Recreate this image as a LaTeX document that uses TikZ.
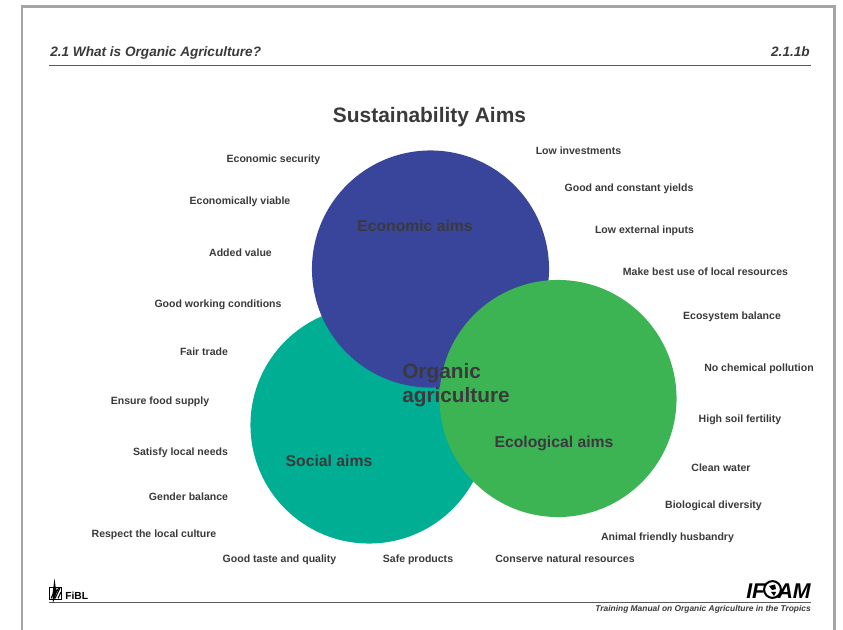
\documentclass[tikz,border=0pt]{standalone}
\usepackage{fontspec}
\setmainfont{Liberation Sans}
\definecolor{ink}{HTML}{3A3A3C}
\definecolor{rulec}{HTML}{58595B}
\definecolor{framegray}{HTML}{A3A5A7}
\definecolor{bluec}{HTML}{39459B}
\definecolor{tealc}{HTML}{00AE93}
\definecolor{greenc}{HTML}{3CB454}
\tikzset{
  px/.style={x=0.75pt,y=-0.75pt},
  lab/.style={font=\bfseries\fontsize{7.9}{9}\selectfont,text=ink,inner sep=0pt,anchor=base},
  aim/.style={font=\bfseries\fontsize{11.8}{14}\selectfont,text=ink,inner sep=0pt,anchor=base},
  head/.style={font=\bfseries\itshape\fontsize{10.2}{12}\selectfont,text=ink,inner sep=0pt,anchor=base},
  rulel/.style={draw=rulec,line width=0.8pt},
  circ/.style={circle,inner sep=0pt,minimum size=177.8pt}
}
\begin{document}
\begin{tikzpicture}[px]
\useasboundingbox (0,0) rectangle (843,630);
\fill[white] (0,0) rectangle (843,630);
\coordinate (fa) at (22,630); \coordinate (fb) at (22,6.5); \coordinate (fc) at (834.5,6.5); \coordinate (fd) at (834.5,630);
\draw[framegray,line width=2.2pt] (fa) -- (fb) -- (fc) -- (fd);
% header
\node[head,anchor=base west] (h1) at (50,56.5) {2.1 What is Organic Agriculture?};
\node[head,anchor=base east] (h2) at (810,56.5) {2.1.1b};
\coordinate (r1a) at (49,65.5); \coordinate (r1b) at (811,65.5);
\draw[rulel] (r1a) -- (r1b);
\node[font=\bfseries\fontsize{15.7}{18}\selectfont,text=ink,inner sep=0pt,anchor=base] (title) at (429.5,122.5) {Sustainability Aims};
% circles
\node[circ,fill=tealc] (soc) at (369,425) {};
\node[circ,fill=bluec] (eco) at (430.5,269) {};
\node[circ,fill=greenc] (ecl) at (558,398.5) {};
\node[aim] (t1) at (415,232) {Economic aims};
\node[aim] (t2) at (329,467) {Social aims};
\node[aim] (t3) at (554,447.5) {Ecological aims};
\node[font=\bfseries\fontsize{15.6}{18}\selectfont,text=ink,inner sep=0pt,align=left,anchor=north west] (t4) at (402,363) {Organic\\agriculture};
% labels left
\node[lab] (a1) at (273.5,163) {Economic security};
\node[lab] (a2) at (240,205) {Economically viable};
\node[lab] (a3) at (240.5,257) {Added value};
\node[lab] (a4) at (218,308) {Good working conditions};
\node[lab] (a5) at (204,356) {Fair trade};
\node[lab] (a6) at (160,405) {Ensure food supply};
\node[lab] (a7) at (180.5,456) {Satisfy local needs};
\node[lab] (a8) at (188.5,501) {Gender balance};
\node[lab] (a9) at (154,538) {Respect the local culture};
\node[lab] (a10) at (279.5,563) {Good taste and quality};
\node[lab] (a11) at (418,563) {Safe products};
\node[lab] (a12) at (565,563) {Conserve natural resources};
% labels right
\node[lab] (b1) at (578.5,155) {Low investments};
\node[lab] (b2) at (629,192) {Good and constant yields};
\node[lab] (b3) at (644.5,234) {Low external inputs};
\node[lab] (b4) at (705.5,276) {Make best use of local resources};
\node[lab] (b5) at (732,320) {Ecosystem balance};
\node[lab] (b6) at (759,372) {No chemical pollution};
\node[lab] (b7) at (740,423) {High soil fertility};
\node[lab] (b8) at (721,472) {Clean water};
\node[lab] (b9) at (713.5,509) {Biological diversity};
\node[lab] (b10) at (667.5,541) {Animal friendly husbandry};
% footer
\coordinate (r2a) at (49,602.5); \coordinate (r2b) at (811,602.5);
\draw[rulel] (r2a) -- (r2b);
\node[font=\bfseries\itshape\fontsize{6.3}{8}\selectfont,text=ink,inner sep=0pt,anchor=base east] (foot) at (811,612) {Training Manual on Organic Agriculture in the Tropics};
\node[font=\bfseries\fontsize{7.7}{9}\selectfont,text=black,inner sep=0pt,anchor=base west] (fibl) at (65,599.5) {FiBL};
% FiBL mark
\draw[black,line width=0.5pt] (49.5,587.5) rectangle (61,599.5);
\fill[black] (54.5,578.5) -- (56,590) -- (60,587) -- (56.5,593) -- (53,603) -- (52.5,594) -- cycle;
\draw[black,line width=0.8pt] (51,598.5) -- (56,588) (55,598.5) -- (60,588) (58,598.5) -- (61,592);
% IFOAM mark
\node[font=\bfseries\itshape\fontsize{16}{18}\selectfont,text=black,inner sep=0pt,anchor=base east] (ifoam1) at (811,598.5) {AM};
\node[font=\bfseries\itshape\fontsize{16}{18}\selectfont,text=black,inner sep=0pt,anchor=base west] (ifoam2) at (746,598.5) {IF};
\draw[black,line width=1.5pt] (772.5,589.5) circle[radius=6.3pt];
\fill[black] (769,586) -- (775,584.5) -- (776,589) -- (772,590) -- cycle;
\fill[black] (771,592) -- (776,592) -- (774,596) -- cycle;
\end{tikzpicture}
\end{document}
